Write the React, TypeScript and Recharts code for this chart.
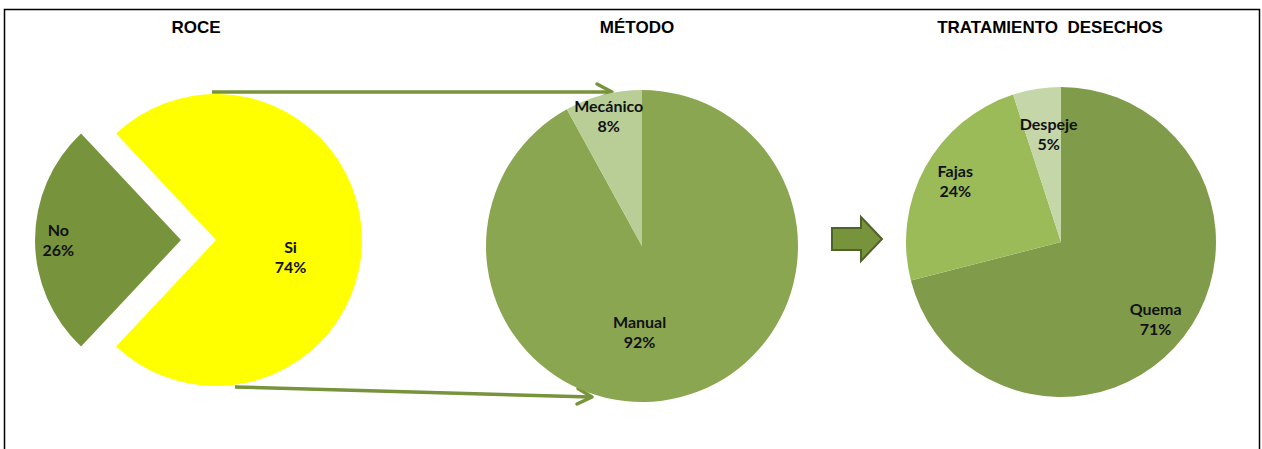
import React from 'react';
import { PieChart, Pie, Cell } from 'recharts';

// ---- data ----
const roceCategories = ['Si', 'No'];
const roceValues = [74, 26];
const metodoCategories = ['Manual', 'Mecánico'];
const metodoValues = [92, 8];
const tratCategories = ['Quema', 'Fajas', 'Despeje'];
const tratValues = [71, 24, 5];
const titles = ['ROCE', 'MÉTODO', 'TRATAMIENTO\u00a0 DESECHOS'];

const toData = (cats: string[], vals: number[]) => cats.map((name, i) => ({ name, value: vals[i] }));
const roceData = toData(roceCategories, roceValues);
const metodoData = toData(metodoCategories, metodoValues);
const tratData = toData(tratCategories, tratValues);

// ---- styles ----
const COLORS: Record<string, string> = {
  Si: '#FFFF00',
  No: '#77933C',
  Manual: '#8BA650',
  'Mecánico': '#B9CE96',
  Quema: '#809C4A',
  Fajas: '#9BBB59',
  Despeje: '#C5D6A9',
};
// label placement: fraction of radius, and angle tweak (deg)
const LABEL_POS: Record<string, { r: number; da: number }> = {
  Si: { r: 0.524, da: -13 },
  No: { r: 0.84, da: 0 },
  Manual: { r: 0.555, da: -16 },
  'Mecánico': { r: 0.857, da: 0 },
  Quema: { r: 0.79, da: -1.6 },
  Fajas: { r: 0.786, da: -1 },
  Despeje: { r: 0.7, da: -2.5 },
};
const LABEL_FONT = 'Lato, "Open Sans", sans-serif';
const TITLE_FONT = '"Liberation Sans", Arial, sans-serif';
const ARROW = '#77933C';
const RAD = Math.PI / 180;
const EXPLODE = 35;

const makeLabel = (hidden: string[]) => (props: any) => {
  const { cx, cy, midAngle, outerRadius, percent, name } = props;
  if (hidden.includes(name)) return null;
  const pos = LABEL_POS[name] || { r: 0.6, da: 0 };
  const ang = (midAngle + pos.da) * RAD;
  const r = outerRadius * pos.r;
  const x = cx + r * Math.cos(-ang);
  const y = cy + r * Math.sin(-ang);
  return (
    <text
      x={x}
      y={y}
      textAnchor="middle"
      fontFamily={LABEL_FONT}
      fontWeight="bold"
      fontSize={16}
      fill="#111"
    >
      <tspan x={x} y={y - 4.5}>{name}</tspan>
      <tspan x={x} y={y + 15.5}>{`${Math.round(percent * 100)}%`}</tspan>
    </text>
  );
};

const total = (vals: number[]) => vals.reduce((a, b) => a + b, 0);
// ROCE: "No" slice centred on the left (180°)
const noShare = roceValues[1] / total(roceValues);
const roceStart = noShare * 180 - 180;

export default function App() {
  const W = 1262;
  const H = 449;
  return (
    <div style={{ position: 'absolute', left: 0, top: 0, width: W, height: H, background: '#fff' }}>
      <svg width={W} height={H} style={{ position: 'absolute', left: 0, top: 0 }}>
        <rect x={4.5} y={9.5} width={1255} height={470} fill="#fff" stroke="#000" strokeWidth={1.5} />
        <text x={196} y={33} textAnchor="middle" fontFamily={TITLE_FONT} fontWeight="bold" fontSize={17} fill="#000">{titles[0]}</text>
        <text x={637} y={33} textAnchor="middle" fontFamily={TITLE_FONT} fontWeight="bold" fontSize={17} fill="#000">{titles[1]}</text>
        <text x={1050} y={33} textAnchor="middle" fontFamily={TITLE_FONT} fontWeight="bold" fontSize={17} fill="#000">{titles[2]}</text>
        {/* connector arrows */}
        <line x1={212} y1={92} x2={611} y2={92} stroke={ARROW} strokeWidth={3.5} />
        <polyline points="597,84 612,92 597,100" fill="none" stroke={ARROW} strokeWidth={3.5} strokeLinecap="round" strokeLinejoin="round" />
        <line x1={235} y1={387} x2={591} y2={397} stroke={ARROW} strokeWidth={3.5} />
        <polyline points="578,388.5 592,397 577,404" fill="none" stroke={ARROW} strokeWidth={3.5} strokeLinecap="round" strokeLinejoin="round" />
        <polygon points="832,228 861,228 861,217 882,239 861,261 861,250 832,250" fill={ARROW} stroke="#4F6228" strokeWidth={2} />
      </svg>
      <div style={{ position: 'absolute', left: 0, top: 0 }}>
        <PieChart width={W} height={H} margin={{ top: 0, right: 0, bottom: 0, left: 0 }}>
          {/* ROCE main (Si) */}
          <Pie
            data={roceData}
            dataKey="value"
            nameKey="name"
            cx={216}
            cy={240}
            outerRadius={146}
            startAngle={roceStart}
            endAngle={roceStart + 360}
            stroke="none"
            labelLine={false}
            label={makeLabel(['No'])}
            isAnimationActive={false}
          >
            {roceData.map((d) => (
              <Cell key={d.name} fill={d.name === 'No' ? 'none' : COLORS[d.name]} />
            ))}
          </Pie>
          {/* ROCE exploded (No) */}
          <Pie
            data={roceData}
            dataKey="value"
            nameKey="name"
            cx={216 - EXPLODE}
            cy={240}
            outerRadius={146}
            startAngle={roceStart}
            endAngle={roceStart + 360}
            stroke="none"
            labelLine={false}
            label={makeLabel(['Si'])}
            isAnimationActive={false}
          >
            {roceData.map((d) => (
              <Cell key={d.name} fill={d.name === 'Si' ? 'none' : COLORS[d.name]} />
            ))}
          </Pie>
          {/* MÉTODO */}
          <Pie
            data={metodoData}
            dataKey="value"
            nameKey="name"
            cx={642}
            cy={246}
            outerRadius={156}
            startAngle={90}
            endAngle={-270}
            stroke="none"
            labelLine={false}
            label={makeLabel([])}
            isAnimationActive={false}
          >
            {metodoData.map((d) => (
              <Cell key={d.name} fill={COLORS[d.name]} />
            ))}
          </Pie>
          {/* TRATAMIENTO DESECHOS */}
          <Pie
            data={tratData}
            dataKey="value"
            nameKey="name"
            cx={1061}
            cy={242}
            outerRadius={155}
            startAngle={90}
            endAngle={-270}
            stroke="none"
            labelLine={false}
            label={makeLabel([])}
            isAnimationActive={false}
          >
            {tratData.map((d) => (
              <Cell key={d.name} fill={COLORS[d.name]} />
            ))}
          </Pie>
        </PieChart>
      </div>
    </div>
  );
}
